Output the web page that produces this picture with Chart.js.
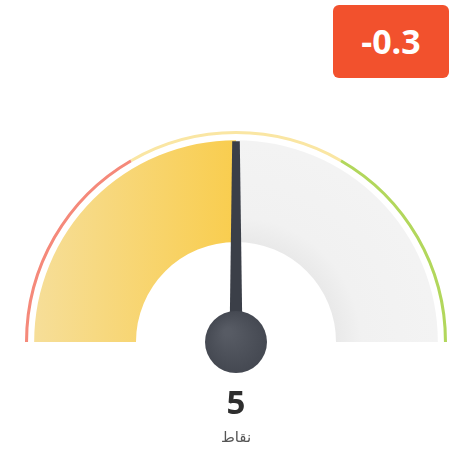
<!DOCTYPE html>
<html>
<head>
<meta charset="utf-8">
<script src="https://cdn.jsdelivr.net/npm/chart.js@4"></script>
<style>
  html, body { margin: 0; padding: 0; background: #fff; }
  #wrap { position: relative; width: 452px; height: 462px; }
  #gauge { position: absolute; left: 0; top: 0; }
  .badge {
    position: absolute; left: 333px; top: 5px; width: 116px; height: 73px;
    background: #f2512d; border-radius: 6px; color: #fff;
    font: bold 34px 'Open Sans', sans-serif; line-height: 73px; text-align: center;
  }
</style>
</head>
<body>
<div id="wrap">
  <canvas id="gauge" width="452" height="462"></canvas>
  <div class="badge" id="badge"></div>
</div>
<script>
// gauge data
var gaugeValue = 5;
var gaugeMax = 10;
var zoneSizes = [3.33, 3.34, 3.33];
var zoneColors = ['#f5897a', '#fae6a3', '#b2d75c'];
var changeLabel = '-0.3';
var unitLabel = 'نقاط';

document.getElementById('badge').textContent = changeLabel;

function bandFill(ctx) {
    var area = ctx.chart.chartArea;
    if (!area) return '#f1f1f1';
    var c = ctx.chart.ctx;
    if (ctx.dataIndex !== 0) {
        var cx = (area.left + area.right) / 2;
        var r = c.createRadialGradient(cx, area.bottom, 100, cx, area.bottom, 200);
        r.addColorStop(0, '#e9e9e9');
        r.addColorStop(0.25, '#f1f1f1');
        r.addColorStop(1, '#f3f3f3');
        return r;
    }
    var g = c.createLinearGradient(area.left + 10, 0, area.left + area.width / 2, 0);
    g.addColorStop(0, '#f6de98');
    g.addColorStop(1, '#f9cd4e');
    return g;
}

var needlePlugin = {
    id: 'needle',
    afterDatasetsDraw: function (chart) {
        var arc = chart.getDatasetMeta(2).data[0];
        var ctx = chart.ctx;
        var cx = arc.x, cy = arc.y;
        var len = arc.outerRadius - 1;
        var ang = Math.PI + Math.PI * gaugeValue / gaugeMax;
        ctx.save();
        ctx.translate(cx, cy);
        ctx.rotate(ang + Math.PI / 2);
        ctx.fillStyle = '#3b3f48';
        ctx.beginPath();
        ctx.moveTo(-6.5, 0);
        ctx.lineTo(-3.8, -len);
        ctx.lineTo(3.8, -len);
        ctx.lineTo(6.5, 0);
        ctx.closePath();
        ctx.fill();
        ctx.restore();

        ctx.save();
        var hub = ctx.createRadialGradient(cx - 8, cy - 10, 4, cx, cy, 32);
        hub.addColorStop(0, '#575b64');
        hub.addColorStop(1, '#444851');
        ctx.fillStyle = hub;
        ctx.beginPath();
        ctx.arc(cx, cy, 31, 0, Math.PI * 2);
        ctx.fill();

        ctx.textAlign = 'center';
        ctx.textBaseline = 'middle';
        ctx.fillStyle = '#2e2e2e';
        ctx.font = 'bold 33px "Open Sans", sans-serif';
        ctx.fillText(String(gaugeValue), cx, cy + 63);
        ctx.fillStyle = '#555';
        ctx.font = '15px "DejaVu Sans", sans-serif';
        ctx.fillText(unitLabel, cx, cy + 96);
        ctx.restore();
    }
};

var gauge = new Chart(document.getElementById('gauge'), {
    type: 'doughnut',
    data: {
        datasets: [{
            data: zoneSizes,
            backgroundColor: zoneColors,
            borderWidth: 0,
            weight: 3
        }, {
            data: [gaugeMax],
            backgroundColor: 'rgba(0,0,0,0)',
            borderWidth: 0,
            weight: 6
        }, {
            data: [gaugeValue, gaugeMax - gaugeValue],
            backgroundColor: bandFill,
            borderWidth: 0,
            weight: 100
        }]
    },
    options: {
        responsive: false,
        animation: false,
        rotation: -90,
        circumference: 180,
        cutout: '47.4%',
        layout: { padding: { left: 25, right: 5, top: 131, bottom: 120 } },
        plugins: { legend: { display: false }, tooltip: { enabled: false } }
    },
    plugins: [needlePlugin]
});
</script>
</body>
</html>
